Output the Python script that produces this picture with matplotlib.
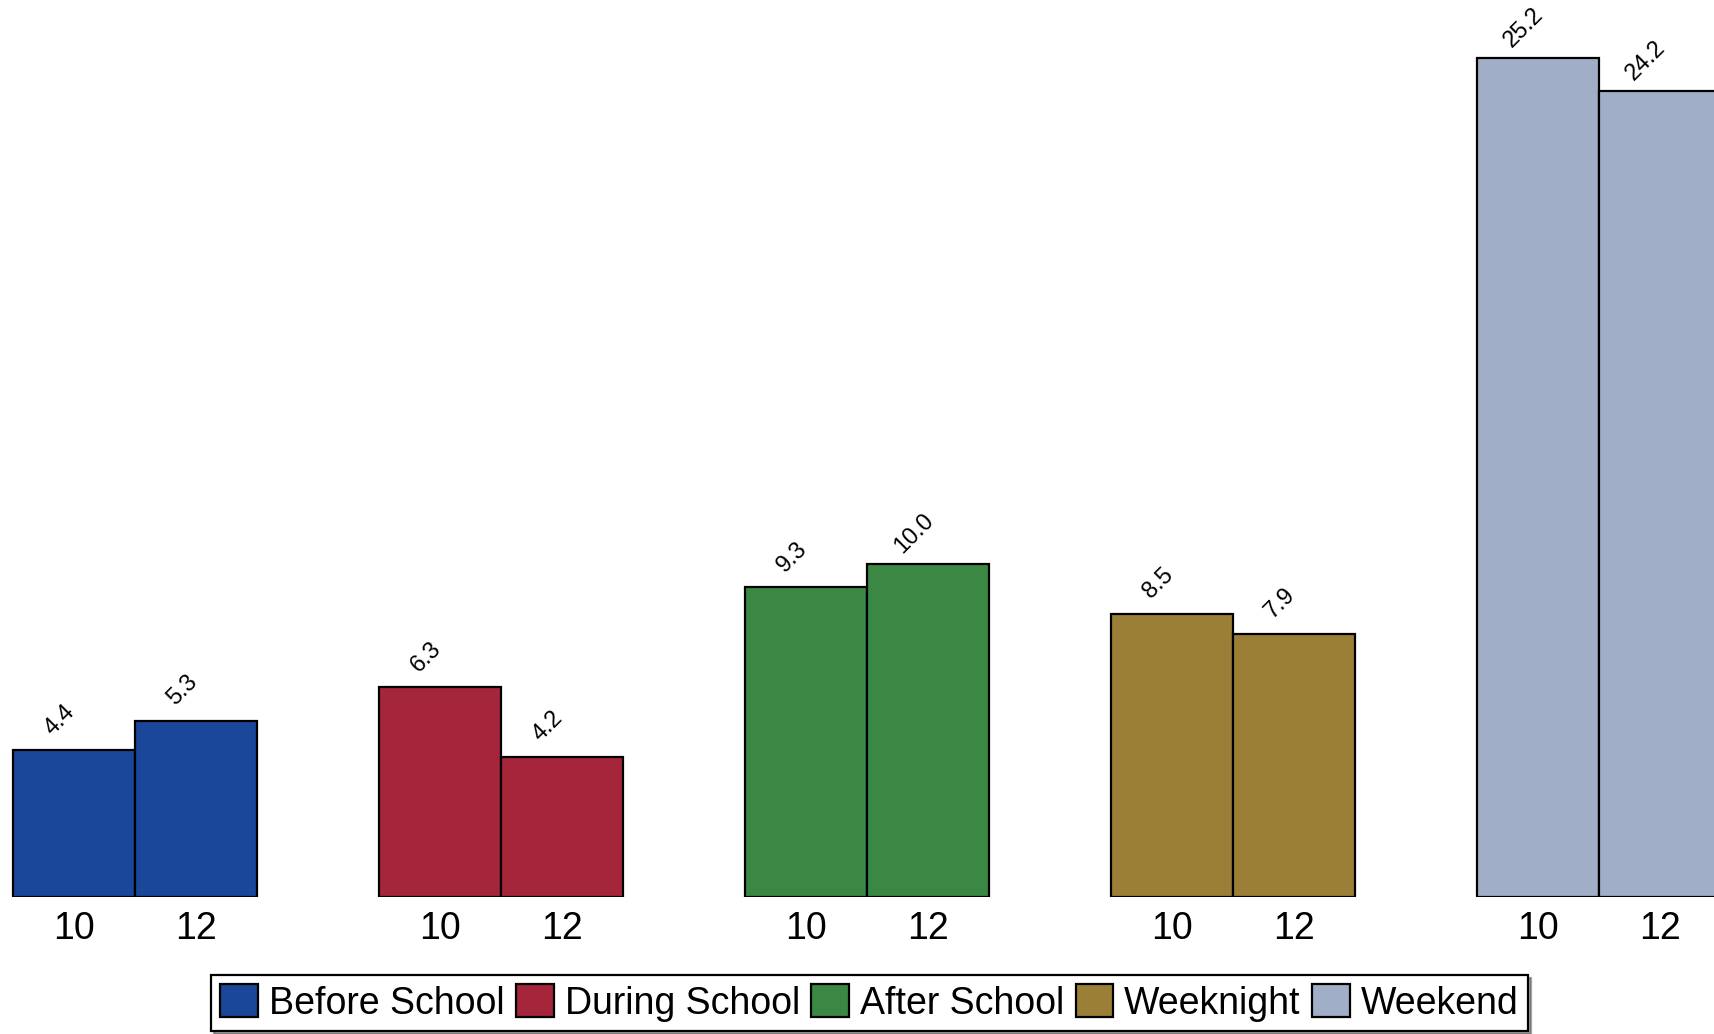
import numpy as np
import matplotlib
matplotlib.use('Agg')
import matplotlib.pyplot as plt

plt.rcParams['font.family'] = ['Liberation Sans', 'DejaVu Sans']

# Données
categories = ['Before School', 'During School', 'After School', 'Weeknight', 'Weekend']
grade_labels = ['10', '12']
grade10 = [4.4, 6.3, 9.3, 8.5, 25.2]
grade12 = [5.3, 4.2, 10.0, 7.9, 24.2]
colors = ['#1A4799', '#A5263A', '#3A8843', '#9C7F37', '#A0AFC7']

fig = plt.figure(figsize=(17.15, 10.34), dpi=100)
ax = fig.add_axes([0, 137 / 1034, 1, 1 - 137 / 1034])

group_pos = np.arange(len(categories)) * 3
tick_pos, tick_lab = [], []
for i, cat in enumerate(categories):
    for j, vals in enumerate([grade10, grade12]):
        x = group_pos[i] + j + 0.5
        ax.bar(x, vals[i], width=1, color=colors[i], edgecolor='black',
               linewidth=1.6, label=cat if j == 0 else None)
        ax.annotate(f'{vals[i]:.1f}', (x, vals[i]), xytext=(-10, 22),
                    textcoords='offset points', rotation=45,
                    rotation_mode='anchor', ha='center', va='center',
                    fontsize=17)
        tick_pos.append(x)
        tick_lab.append(grade_labels[j])

ax.set_xlim(-13 / 122, (1715 - 13) / 122)
ax.set_ylim(0, 897 / 33.3)
ax.set_xticks(tick_pos)
ax.set_xticklabels(tick_lab, fontsize=27)
ax.tick_params(axis='x', length=0, pad=10)
ax.set_yticks([])
for s in ax.spines.values():
    s.set_visible(False)

leg = fig.legend(loc='lower center', bbox_to_anchor=(0.507, 0.003), ncol=5,
                 fontsize=27, frameon=True, fancybox=False, shadow=True,
                 edgecolor='black', handlelength=1.0, handleheight=0.95,
                 handletextpad=0.3, columnspacing=0.3, borderpad=0.25,
                 borderaxespad=0)
leg.get_frame().set_linewidth(1.6)

fig.savefig('out.png', dpi=100)
